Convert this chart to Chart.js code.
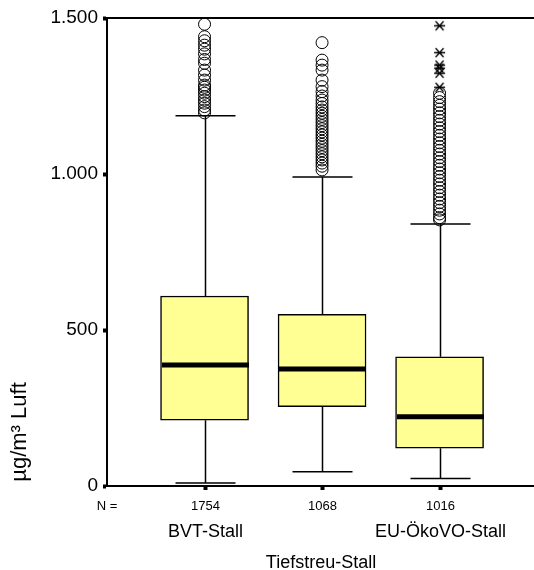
<!DOCTYPE html>
<html>
<head>
<meta charset="utf-8">
<script src="https://cdn.jsdelivr.net/npm/chart.js@4"></script>
<style>
  html, body { margin: 0; padding: 0; background: #fff; }
</style>
</head>
<body>
<canvas id="boxChart" width="534" height="570"></canvas>
<script>
// box plot data
const categories = ['BVT-Stall', '', 'EU-ÖkoVO-Stall'];
const counts = ['1754', '1068', '1016'];
const whiskerLow = [10, 46, 24];
const quartile1 = [211, 254, 121];
const medians = [388, 375, 222];
const quartile3 = [609, 550, 414];
const whiskerHigh = [1187, 990, 840];
const outliersBVT = [1480, 1440, 1427, 1413, 1400, 1385, 1367, 1355, 1333, 1317, 1301, 1285, 1278, 1269, 1259, 1248, 1237, 1227, 1216, 1205, 1196];
const outliersMid = [1421, 1365, 1349, 1333, 1301, 1280, 1264, 1250, 1237, 1226, 1215, 1205, 1195, 1185, 1175, 1165, 1155, 1145, 1135, 1125, 1115, 1105, 1095, 1085, 1075, 1065, 1055, 1045, 1035, 1025, 1013];
const outliersEU = [1259, 1245, 1232, 1220, 1208, 1196, 1184, 1172, 1160, 1148, 1136, 1124, 1112, 1100, 1088, 1076, 1064, 1052, 1040, 1028, 1016, 1004, 992, 980, 968, 956, 944, 932, 920, 908, 896, 884, 872, 860, 853];
const extremesEU = [1475, 1389, 1349, 1339, 1323, 1278];
const yTicks = [0, 500, 1000, 1500];

const FONT = "'Liberation Sans', Arial, sans-serif";

// asterisk marker for extreme values
const star = document.createElement('canvas');
star.width = 13; star.height = 13;
(function () {
  const c = star.getContext('2d');
  c.strokeStyle = '#000';
  c.lineWidth = 1.3;
  c.beginPath();
  c.moveTo(1, 6.5); c.lineTo(12, 6.5);
  c.moveTo(2.5, 2); c.lineTo(10.5, 11);
  c.moveTo(10.5, 2); c.lineTo(2.5, 11);
  c.stroke();
})();

const circlePoints = [];
[outliersBVT, outliersMid, outliersEU].forEach(function (list, i) {
  list.forEach(function (v) { circlePoints.push({ x: i, y: v }); });
});
const starPoints = extremesEU.map(function (v) { return { x: 2, y: v }; });

// whiskers, medians, frame and the texts under the axis
const boxExtras = {
  id: 'boxExtras',
  afterDatasetsDraw(chart) {
    const ctx = chart.ctx;
    const xs = chart.scales.x, ys = chart.scales.y;
    const area = chart.chartArea;
    ctx.save();
    ctx.strokeStyle = '#000';

    // frame lines run to the right edge
    ctx.lineWidth = 2;
    ctx.beginPath();
    ctx.moveTo(area.left, area.top);
    ctx.lineTo(chart.width, area.top);
    ctx.moveTo(area.left, area.bottom);
    ctx.lineTo(chart.width, area.bottom);
    ctx.stroke();

    categories.forEach(function (c, i) {
      const cx = Math.round(xs.getPixelForValue(i)) + 0.5;
      ctx.lineWidth = 1.5;
      ctx.beginPath();
      ctx.moveTo(cx, ys.getPixelForValue(quartile3[i]));
      ctx.lineTo(cx, ys.getPixelForValue(whiskerHigh[i]));
      ctx.moveTo(cx, ys.getPixelForValue(quartile1[i]));
      ctx.lineTo(cx, ys.getPixelForValue(whiskerLow[i]));
      ctx.moveTo(cx - 30, ys.getPixelForValue(whiskerHigh[i]));
      ctx.lineTo(cx + 30, ys.getPixelForValue(whiskerHigh[i]));
      ctx.moveTo(cx - 30, ys.getPixelForValue(whiskerLow[i]));
      ctx.lineTo(cx + 30, ys.getPixelForValue(whiskerLow[i]));
      ctx.stroke();

      ctx.lineWidth = 5;
      ctx.beginPath();
      ctx.moveTo(cx - 43.5, ys.getPixelForValue(medians[i]));
      ctx.lineTo(cx + 43.5, ys.getPixelForValue(medians[i]));
      ctx.stroke();

      // small square tick under the axis
      ctx.fillStyle = '#000';
      ctx.fillRect(cx - 2, area.bottom, 4, 4);

      ctx.textAlign = 'center';
      ctx.textBaseline = 'middle';
      ctx.font = '13px ' + FONT;
      ctx.fillText(counts[i], cx, area.bottom + 20);
      if (c) {
        ctx.font = '18px ' + FONT;
        ctx.fillText(c, cx, area.bottom + 46);
      }
    });

    ctx.fillStyle = '#000';
    ctx.textAlign = 'center';
    ctx.textBaseline = 'middle';
    ctx.font = '13px ' + FONT;
    ctx.fillText('N =', 107, area.bottom + 20);

    ctx.font = '18px ' + FONT;
    ctx.fillText('Tiefstreu-Stall', 321, area.bottom + 77);

    ctx.translate(20, 432);
    ctx.rotate(-Math.PI / 2);
    ctx.font = '22px ' + FONT;
    ctx.fillText('µg/m³ Luft', 0, 0);
    ctx.restore();
  }
};

new Chart(document.getElementById('boxChart').getContext('2d'), {
  data: {
    datasets: [
      {
        type: 'bar',
        label: 'box',
        data: categories.map(function (c, i) { return { x: i, y: [quartile1[i], quartile3[i]] }; }),
        backgroundColor: '#ffff94',
        borderColor: '#000',
        borderWidth: 1.5,
        borderSkipped: false,
        barThickness: 88,
        order: 3
      },
      {
        type: 'scatter',
        label: 'outliers',
        data: circlePoints,
        pointStyle: 'circle',
        pointRadius: 6,
        borderColor: '#000',
        backgroundColor: 'rgba(0,0,0,0)',
        borderWidth: 1,
        order: 1
      },
      {
        type: 'scatter',
        label: 'extremes',
        data: starPoints,
        pointStyle: star,
        order: 0
      }
    ]
  },
  options: {
    responsive: false,
    animation: false,
    locale: 'de-DE',
    layout: { padding: { top: 18, left: 0, right: 0, bottom: 0 } },
    plugins: { legend: { display: false }, tooltip: { enabled: false } },
    scales: {
      x: {
        type: 'linear',
        offset: false,
        min: -0.83,
        max: 2.744,
        grid: { display: false, offset: false },
        ticks: { display: false },
        border: { color: '#000', width: 2 },
        afterFit(scale) { scale.height = 84; }
      },
      y: {
        type: 'linear',
        min: 0,
        max: 1500,
        afterBuildTicks(scale) { scale.ticks = yTicks.map(function (v) { return { value: v }; }); },
        ticks: {
          color: '#000',
          font: { family: FONT, size: 19 },
          padding: 5
        },
        grid: {
          drawOnChartArea: false,
          drawTicks: true,
          tickLength: 4,
          tickWidth: 4,
          tickColor: '#000'
        },
        border: { color: '#000', width: 2 },
        afterFit(scale) { scale.width = 107; }
      }
    }
  },
  plugins: [boxExtras]
});
</script>
</body>
</html>
